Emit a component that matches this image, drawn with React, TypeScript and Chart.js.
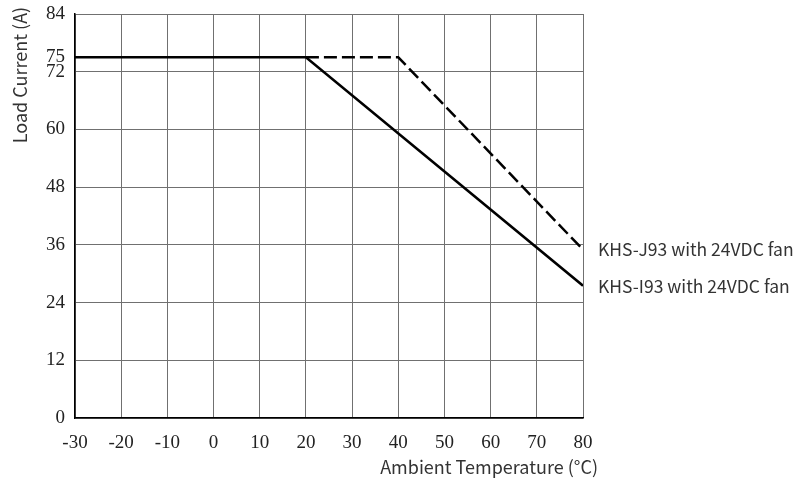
import React, { useEffect, useRef } from "react";
import { Chart, registerables } from "chart.js";

Chart.register(...registerables);

const solidX = [-30, 20, 80];
const solidY = [75, 75, 27.5];
const dashedX = [20, 40, 80];
const dashedY = [75, 75, 35];
const yTicks = [0, 12, 24, 36, 48, 60, 72, 75, 84];
const xTicks = [-30, -20, -10, 0, 10, 20, 30, 40, 50, 60, 70, 80];
const seriesLabels = ["KHS-J93 with 24VDC fan", "KHS-I93 with 24VDC fan"];
const xTitle = "Ambient Temperature (°C)";
const yTitle = "Load Current (A)";

const SANS = "'Noto Sans CJK SC', 'Noto Sans', sans-serif";
const SERIF = "'Liberation Serif', 'DejaVu Serif', serif";

export default function App() {
  const ref = useRef<HTMLCanvasElement>(null);
  useEffect(() => {
    if (!ref.current) return;
    const textPlugin = {
      id: "texts",
      afterDraw(chart: any) {
        const ctx = chart.ctx;
        const ys = chart.scales.y;
        const area = chart.chartArea;
        ctx.save();
        ctx.fillStyle = "#333";
        ctx.font = `17.5px ${SANS}`;
        ctx.textAlign = "left";
        ctx.textBaseline = "middle";
        ctx.fillText(seriesLabels[0], area.right + 15, ys.getPixelForValue(dashedY[dashedY.length - 1]));
        ctx.fillText(seriesLabels[1], area.right + 15, ys.getPixelForValue(solidY[solidY.length - 1]) + 1);
        ctx.font = `18px ${SANS}`;
        ctx.textAlign = "right";
        ctx.fillText(xTitle, area.right + 15, 467);
        ctx.translate(20, 75);
        ctx.rotate(-Math.PI / 2);
        ctx.textAlign = "center";
        ctx.fillText(yTitle, 0, 0);
        ctx.restore();
      },
    };
    const chart = new Chart(ref.current, {
      type: "scatter",
      data: {
        datasets: [
          {
            data: solidX.map((x, i) => ({ x, y: solidY[i] })),
            showLine: true,
            borderColor: "#000",
            borderWidth: 2.5,
            pointRadius: 0,
            fill: false,
          },
          {
            data: dashedX.map((x, i) => ({ x, y: dashedY[i] })),
            showLine: true,
            borderColor: "#000",
            borderWidth: 2.5,
            borderDash: [13, 5],
            pointRadius: 0,
            fill: false,
          },
        ],
      },
      options: {
        responsive: false,
        animation: false,
        devicePixelRatio: 1,
        layout: { padding: { top: 14, right: 217, left: 0, bottom: 0 } },
        plugins: { legend: { display: false }, tooltip: { enabled: false } },
        scales: {
          x: {
            type: "linear",
            min: -30,
            max: 80,
            afterBuildTicks: (s: any) => {
              s.ticks = xTicks.map((v) => ({ value: v }));
            },
            afterFit: (s: any) => {
              s.height = 64;
              s.paddingLeft = 0;
              s.paddingRight = 0;
            },
            grid: { color: "#707070", lineWidth: 1, drawTicks: false },
            border: { color: "#000", width: 1.5 },
            ticks: {
              font: { family: SERIF, size: 19 },
              color: "#222",
              padding: 14,
              maxRotation: 0,
              autoSkip: false,
            },
          },
          y: {
            type: "linear",
            min: 0,
            max: 84,
            afterBuildTicks: (s: any) => {
              s.ticks = yTicks.map((v) => ({ value: v }));
            },
            afterFit: (s: any) => {
              s.width = 75;
              s.paddingTop = 0;
              s.paddingBottom = 0;
            },
            grid: {
              color: (c: any) => (c.tick && c.tick.value === 75 ? "rgba(0,0,0,0)" : "#707070"),
              lineWidth: 1,
              drawTicks: false,
            },
            border: { color: "#000", width: 1.5 },
            ticks: {
              font: { family: SERIF, size: 19 },
              color: "#222",
              padding: 10,
              autoSkip: false,
            },
          },
        },
      },
      plugins: [textPlugin],
    } as any);
    return () => chart.destroy();
  }, []);
  return (
    <div style={{ position: "absolute", left: 0, top: 0, width: 800, height: 482, background: "#fff" }}>
      <canvas ref={ref} width={800} height={482} style={{ width: 800, height: 482 }} />
    </div>
  );
}
